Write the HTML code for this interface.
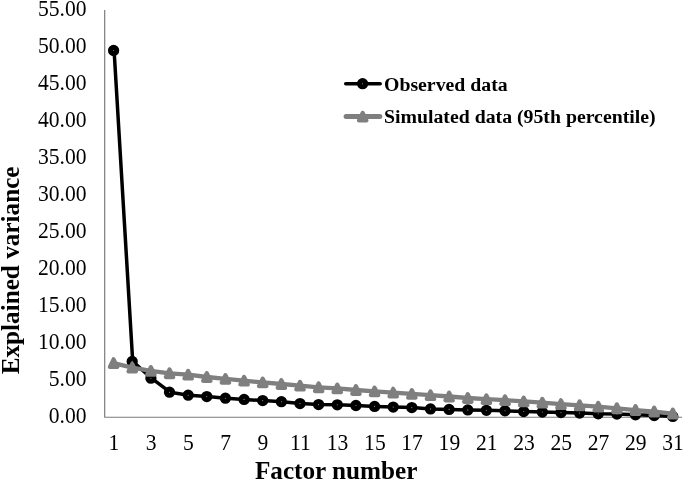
<!DOCTYPE html><html><head><meta charset="utf-8"><title>Scree plot</title><style>html,body{margin:0;padding:0;background:#fff}svg{display:block}text{font-family:"Liberation Serif","Times New Roman",serif;fill:#000}</style></head><body>
<svg width="685" height="481" viewBox="0 0 685 481">
<rect width="685" height="481" fill="#fff"/>
<path d="M104.7 10.0 V417.25 H682.0" fill="none" stroke="#7c7c7c" stroke-width="1.2" stroke-linejoin="round"/>
<text transform="translate(86.6 423.45) scale(1 1.085)" font-size="21.6" text-anchor="end">0.00</text>
<text transform="translate(86.6 386.44) scale(1 1.085)" font-size="21.6" text-anchor="end">5.00</text>
<text transform="translate(86.6 349.44) scale(1 1.085)" font-size="21.6" text-anchor="end">10.00</text>
<text transform="translate(86.6 312.44) scale(1 1.085)" font-size="21.6" text-anchor="end">15.00</text>
<text transform="translate(86.6 275.43) scale(1 1.085)" font-size="21.6" text-anchor="end">20.00</text>
<text transform="translate(86.6 238.42) scale(1 1.085)" font-size="21.6" text-anchor="end">25.00</text>
<text transform="translate(86.6 201.42) scale(1 1.085)" font-size="21.6" text-anchor="end">30.00</text>
<text transform="translate(86.6 164.42) scale(1 1.085)" font-size="21.6" text-anchor="end">35.00</text>
<text transform="translate(86.6 127.41) scale(1 1.085)" font-size="21.6" text-anchor="end">40.00</text>
<text transform="translate(86.6 90.40) scale(1 1.085)" font-size="21.6" text-anchor="end">45.00</text>
<text transform="translate(86.6 53.40) scale(1 1.085)" font-size="21.6" text-anchor="end">50.00</text>
<text transform="translate(86.6 16.39) scale(1 1.085)" font-size="21.6" text-anchor="end">55.00</text>
<text transform="translate(113.9 449.6) scale(1 1.085)" font-size="21.6" text-anchor="middle">1</text>
<text transform="translate(151.2 449.6) scale(1 1.085)" font-size="21.6" text-anchor="middle">3</text>
<text transform="translate(188.5 449.6) scale(1 1.085)" font-size="21.6" text-anchor="middle">5</text>
<text transform="translate(225.7 449.6) scale(1 1.085)" font-size="21.6" text-anchor="middle">7</text>
<text transform="translate(263.0 449.6) scale(1 1.085)" font-size="21.6" text-anchor="middle">9</text>
<text transform="translate(300.3 449.6) scale(1 1.085)" font-size="21.6" text-anchor="middle">11</text>
<text transform="translate(337.6 449.6) scale(1 1.085)" font-size="21.6" text-anchor="middle">13</text>
<text transform="translate(374.9 449.6) scale(1 1.085)" font-size="21.6" text-anchor="middle">15</text>
<text transform="translate(412.1 449.6) scale(1 1.085)" font-size="21.6" text-anchor="middle">17</text>
<text transform="translate(449.4 449.6) scale(1 1.085)" font-size="21.6" text-anchor="middle">19</text>
<text transform="translate(486.7 449.6) scale(1 1.085)" font-size="21.6" text-anchor="middle">21</text>
<text transform="translate(524.0 449.6) scale(1 1.085)" font-size="21.6" text-anchor="middle">23</text>
<text transform="translate(561.3 449.6) scale(1 1.085)" font-size="21.6" text-anchor="middle">25</text>
<text transform="translate(598.5 449.6) scale(1 1.085)" font-size="21.6" text-anchor="middle">27</text>
<text transform="translate(635.8 449.6) scale(1 1.085)" font-size="21.6" text-anchor="middle">29</text>
<text transform="translate(673.1 449.6) scale(1 1.085)" font-size="21.6" text-anchor="middle">31</text>
<text x="336.2" y="479.1" font-size="25.2" font-weight="bold" text-anchor="middle">Factor number</text>
<text transform="translate(19.2 270.4) rotate(-90)" font-size="25.2" font-weight="bold" text-anchor="middle">Explained variance</text>
<polyline points="114.1,50.5 132.7,361.4 151.4,378.2 170.0,392.2 188.7,395.2 207.3,396.6 225.9,398.2 244.6,399.4 263.2,400.6 281.9,401.7 300.5,403.6 319.1,404.6 337.8,404.8 356.4,405.5 375.1,406.4 393.7,407.1 412.3,407.6 431.0,408.9 449.6,409.4 468.3,409.9 486.9,410.3 505.5,410.8 524.2,411.5 542.8,412.0 561.5,412.6 580.1,413.1 598.7,413.8 617.4,414.0 636.0,414.8 654.7,415.6 673.3,416.4" fill="none" stroke="#000" stroke-width="3.5" stroke-linejoin="round" stroke-linecap="round"/>
<circle cx="113.6" cy="50.5" r="3.1" fill="#999" stroke="#000" stroke-width="5.1"/>
<circle cx="132.2" cy="361.4" r="3.1" fill="#999" stroke="#000" stroke-width="5.1"/>
<circle cx="150.9" cy="378.2" r="3.1" fill="#999" stroke="#000" stroke-width="5.1"/>
<circle cx="169.5" cy="392.2" r="3.1" fill="#999" stroke="#000" stroke-width="5.1"/>
<circle cx="188.2" cy="395.2" r="3.1" fill="#999" stroke="#000" stroke-width="5.1"/>
<circle cx="206.8" cy="396.6" r="3.1" fill="#999" stroke="#000" stroke-width="5.1"/>
<circle cx="225.4" cy="398.2" r="3.1" fill="#999" stroke="#000" stroke-width="5.1"/>
<circle cx="244.1" cy="399.4" r="3.1" fill="#999" stroke="#000" stroke-width="5.1"/>
<circle cx="262.7" cy="400.6" r="3.1" fill="#999" stroke="#000" stroke-width="5.1"/>
<circle cx="281.4" cy="401.7" r="3.1" fill="#999" stroke="#000" stroke-width="5.1"/>
<circle cx="300.0" cy="403.6" r="3.1" fill="#999" stroke="#000" stroke-width="5.1"/>
<circle cx="318.6" cy="404.6" r="3.1" fill="#999" stroke="#000" stroke-width="5.1"/>
<circle cx="337.3" cy="404.8" r="3.1" fill="#999" stroke="#000" stroke-width="5.1"/>
<circle cx="355.9" cy="405.5" r="3.1" fill="#999" stroke="#000" stroke-width="5.1"/>
<circle cx="374.6" cy="406.4" r="3.1" fill="#999" stroke="#000" stroke-width="5.1"/>
<circle cx="393.2" cy="407.1" r="3.1" fill="#999" stroke="#000" stroke-width="5.1"/>
<circle cx="411.8" cy="407.6" r="3.1" fill="#999" stroke="#000" stroke-width="5.1"/>
<circle cx="430.5" cy="408.9" r="3.1" fill="#999" stroke="#000" stroke-width="5.1"/>
<circle cx="449.1" cy="409.4" r="3.1" fill="#999" stroke="#000" stroke-width="5.1"/>
<circle cx="467.8" cy="409.9" r="3.1" fill="#999" stroke="#000" stroke-width="5.1"/>
<circle cx="486.4" cy="410.3" r="3.1" fill="#999" stroke="#000" stroke-width="5.1"/>
<circle cx="505.0" cy="410.8" r="3.1" fill="#999" stroke="#000" stroke-width="5.1"/>
<circle cx="523.7" cy="411.5" r="3.1" fill="#999" stroke="#000" stroke-width="5.1"/>
<circle cx="542.3" cy="412.0" r="3.1" fill="#999" stroke="#000" stroke-width="5.1"/>
<circle cx="561.0" cy="412.6" r="3.1" fill="#999" stroke="#000" stroke-width="5.1"/>
<circle cx="579.6" cy="413.1" r="3.1" fill="#999" stroke="#000" stroke-width="5.1"/>
<circle cx="598.2" cy="413.8" r="3.1" fill="#999" stroke="#000" stroke-width="5.1"/>
<circle cx="616.9" cy="414.0" r="3.1" fill="#999" stroke="#000" stroke-width="5.1"/>
<circle cx="635.5" cy="414.8" r="3.1" fill="#999" stroke="#000" stroke-width="5.1"/>
<circle cx="654.2" cy="415.6" r="3.1" fill="#999" stroke="#000" stroke-width="5.1"/>
<circle cx="672.8" cy="416.4" r="3.1" fill="#999" stroke="#000" stroke-width="5.1"/>
<polyline points="113.6,363.1 132.2,367.6 150.9,370.9 169.5,373.3 188.2,374.7 206.8,377.0 225.4,378.9 244.1,380.7 262.7,382.4 281.4,384.0 300.0,385.7 318.6,387.3 337.3,388.4 355.9,390.0 374.6,391.4 393.2,392.6 411.8,393.9 430.5,395.2 449.1,396.5 467.8,398.0 486.4,399.2 505.0,400.2 523.7,401.4 542.3,402.7 561.0,404.1 579.6,405.3 598.2,406.7 616.9,408.3 635.5,410.1 654.2,411.6 672.8,413.6" fill="none" stroke="#7f7f7f" stroke-width="4.3" stroke-linejoin="round" stroke-linecap="round"/>
<path d="M113.60 359.30 L117.30 366.90 H109.90 Z" fill="#7f7f7f" stroke="#7f7f7f" stroke-width="4.2" stroke-linejoin="round"/>
<path d="M132.24 363.80 L135.94 371.40 H128.54 Z" fill="#7f7f7f" stroke="#7f7f7f" stroke-width="4.2" stroke-linejoin="round"/>
<path d="M150.88 367.10 L154.58 374.70 H147.18 Z" fill="#7f7f7f" stroke="#7f7f7f" stroke-width="4.2" stroke-linejoin="round"/>
<path d="M169.52 369.50 L173.22 377.10 H165.82 Z" fill="#7f7f7f" stroke="#7f7f7f" stroke-width="4.2" stroke-linejoin="round"/>
<path d="M188.16 370.90 L191.86 378.50 H184.46 Z" fill="#7f7f7f" stroke="#7f7f7f" stroke-width="4.2" stroke-linejoin="round"/>
<path d="M206.80 373.20 L210.50 380.80 H203.10 Z" fill="#7f7f7f" stroke="#7f7f7f" stroke-width="4.2" stroke-linejoin="round"/>
<path d="M225.44 375.10 L229.14 382.70 H221.74 Z" fill="#7f7f7f" stroke="#7f7f7f" stroke-width="4.2" stroke-linejoin="round"/>
<path d="M244.08 376.90 L247.78 384.50 H240.38 Z" fill="#7f7f7f" stroke="#7f7f7f" stroke-width="4.2" stroke-linejoin="round"/>
<path d="M262.72 378.60 L266.42 386.20 H259.02 Z" fill="#7f7f7f" stroke="#7f7f7f" stroke-width="4.2" stroke-linejoin="round"/>
<path d="M281.36 380.20 L285.06 387.80 H277.66 Z" fill="#7f7f7f" stroke="#7f7f7f" stroke-width="4.2" stroke-linejoin="round"/>
<path d="M300.00 381.90 L303.70 389.50 H296.30 Z" fill="#7f7f7f" stroke="#7f7f7f" stroke-width="4.2" stroke-linejoin="round"/>
<path d="M318.64 383.50 L322.34 391.10 H314.94 Z" fill="#7f7f7f" stroke="#7f7f7f" stroke-width="4.2" stroke-linejoin="round"/>
<path d="M337.28 384.60 L340.98 392.20 H333.58 Z" fill="#7f7f7f" stroke="#7f7f7f" stroke-width="4.2" stroke-linejoin="round"/>
<path d="M355.92 386.20 L359.62 393.80 H352.22 Z" fill="#7f7f7f" stroke="#7f7f7f" stroke-width="4.2" stroke-linejoin="round"/>
<path d="M374.56 387.60 L378.26 395.20 H370.86 Z" fill="#7f7f7f" stroke="#7f7f7f" stroke-width="4.2" stroke-linejoin="round"/>
<path d="M393.20 388.80 L396.90 396.40 H389.50 Z" fill="#7f7f7f" stroke="#7f7f7f" stroke-width="4.2" stroke-linejoin="round"/>
<path d="M411.84 390.10 L415.54 397.70 H408.14 Z" fill="#7f7f7f" stroke="#7f7f7f" stroke-width="4.2" stroke-linejoin="round"/>
<path d="M430.48 391.40 L434.18 399.00 H426.78 Z" fill="#7f7f7f" stroke="#7f7f7f" stroke-width="4.2" stroke-linejoin="round"/>
<path d="M449.12 392.70 L452.82 400.30 H445.42 Z" fill="#7f7f7f" stroke="#7f7f7f" stroke-width="4.2" stroke-linejoin="round"/>
<path d="M467.76 394.20 L471.46 401.80 H464.06 Z" fill="#7f7f7f" stroke="#7f7f7f" stroke-width="4.2" stroke-linejoin="round"/>
<path d="M486.40 395.40 L490.10 403.00 H482.70 Z" fill="#7f7f7f" stroke="#7f7f7f" stroke-width="4.2" stroke-linejoin="round"/>
<path d="M505.04 396.40 L508.74 404.00 H501.34 Z" fill="#7f7f7f" stroke="#7f7f7f" stroke-width="4.2" stroke-linejoin="round"/>
<path d="M523.68 397.60 L527.38 405.20 H519.98 Z" fill="#7f7f7f" stroke="#7f7f7f" stroke-width="4.2" stroke-linejoin="round"/>
<path d="M542.32 398.90 L546.02 406.50 H538.62 Z" fill="#7f7f7f" stroke="#7f7f7f" stroke-width="4.2" stroke-linejoin="round"/>
<path d="M560.96 400.30 L564.66 407.90 H557.26 Z" fill="#7f7f7f" stroke="#7f7f7f" stroke-width="4.2" stroke-linejoin="round"/>
<path d="M579.60 401.50 L583.30 409.10 H575.90 Z" fill="#7f7f7f" stroke="#7f7f7f" stroke-width="4.2" stroke-linejoin="round"/>
<path d="M598.24 402.90 L601.94 410.50 H594.54 Z" fill="#7f7f7f" stroke="#7f7f7f" stroke-width="4.2" stroke-linejoin="round"/>
<path d="M616.88 404.50 L620.58 412.10 H613.18 Z" fill="#7f7f7f" stroke="#7f7f7f" stroke-width="4.2" stroke-linejoin="round"/>
<path d="M635.52 406.25 L639.22 413.85 H631.82 Z" fill="#7f7f7f" stroke="#7f7f7f" stroke-width="4.2" stroke-linejoin="round"/>
<path d="M654.16 407.75 L657.86 415.35 H650.46 Z" fill="#7f7f7f" stroke="#7f7f7f" stroke-width="4.2" stroke-linejoin="round"/>
<path d="M672.80 409.75 L676.50 417.35 H669.10 Z" fill="#7f7f7f" stroke="#7f7f7f" stroke-width="4.2" stroke-linejoin="round"/>
<path d="M345.7 83.7 H380.2" stroke="#000" stroke-width="3.5" stroke-linecap="round"/>
<circle cx="362.6" cy="83.7" r="3.1" fill="#999" stroke="#000" stroke-width="5.1"/>
<text x="384" y="91.1" font-size="19.8" font-weight="bold">Observed data</text>
<path d="M346.1 116.6 H379.8" stroke="#7f7f7f" stroke-width="5" stroke-linecap="round"/>
<path d="M362.70 112.85 L366.40 120.45 H359.00 Z" fill="#7f7f7f" stroke="#7f7f7f" stroke-width="4.2" stroke-linejoin="round"/>
<text x="384" y="123.4" font-size="19.8" font-weight="bold">Simulated data (95th percentile)</text>
</svg></body></html>
